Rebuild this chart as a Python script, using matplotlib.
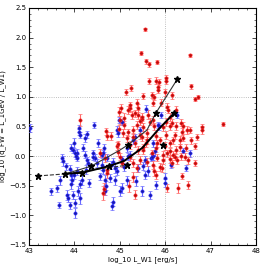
import matplotlib
matplotlib.use("Agg")
import matplotlib.pyplot as plt
from matplotlib.ticker import MultipleLocator

# blue sample: log10 L_W1, log10 q_FW, error
blue_x = [43.02, 44.10, 44.10, 44.12, 44.43, 44.98, 44.94, 45.58, 45.90, 45.86, 45.45,
          43.99, 43.93, 44.06, 44.06, 44.23, 44.27, 43.73, 43.75, 43.82, 43.90, 43.92,
          43.94, 43.92, 43.99, 44.06, 44.17, 44.12, 44.27, 44.30, 44.26, 44.45, 44.50,
          44.41, 44.52, 44.65, 44.71, 44.60, 44.63, 44.56, 44.67, 44.78, 44.70, 44.67,
          43.68, 43.62, 43.84, 43.86, 43.97, 44.08, 44.01, 43.90, 44.13, 44.01, 43.66,
          43.48, 44.85, 44.83, 45.00, 45.05, 45.15, 44.89, 45.36, 45.49, 45.66, 45.55,
          45.62, 45.51, 45.40, 45.55, 45.69, 45.73, 45.77, 45.80, 45.99, 46.00, 46.13,
          46.39, 46.46, 46.55, 43.97, 44.01, 44.04, 44.19, 44.23, 44.60, 44.63, 44.41,
          45.22, 45.16, 45.05, 44.96, 45.33, 45.84, 46.26, 44.85, 44.90, 44.95, 44.80,
          45.05, 45.10, 44.33, 45.29, 45.18, 45.73, 45.71]
blue_y = [0.47, 0.47, 0.41, 0.36, 0.52, 0.61, 0.44, 0.80, 0.70, 0.50, 0.44,
          0.22, 0.14, 0.05, -0.03, 0.31, 0.37, -0.03, -0.08, -0.17, -0.22, -0.32,
          -0.40, -0.47, -0.32, -0.25, -0.40, -0.47, -0.07, -0.12, -0.23, -0.03, -0.12,
          0.05, 0.22, 0.14, -0.03, -0.15, -0.23, -0.34, -0.40, -0.37, -0.50, -0.59,
          -0.41, -0.54, -0.66, -0.71, -0.66, -0.59, -0.79, -0.83, -0.71, -0.96, -0.83,
          -0.59, -0.77, -0.84, -0.59, -0.54, -0.41, -0.41, -0.42, -0.59, -0.66, -0.32,
          -0.25, -0.17, -0.20, -0.07, -0.03, 0.00, 0.08, -0.49, -0.37, -0.45, -0.15,
          0.09, -0.20, 0.05, 0.10, 0.05, 0.00, 0.14, 0.02, 0.02, 0.05, -0.01,
          0.02, 0.14, 0.58, 0.39, 0.32, 0.53, 0.69, -0.10, -0.20, -0.25, -0.15,
          -0.05, -0.18, -0.45, 0.27, 0.00, 0.22, -0.01]
blue_err = [0.07, 0.06, 0.05, 0.05, 0.05, 0.05, 0.06, 0.06, 0.05, 0.06, 0.05,
            0.08, 0.06, 0.07, 0.06, 0.07, 0.06, 0.07, 0.08, 0.06, 0.07, 0.08,
            0.07, 0.08, 0.06, 0.07, 0.08, 0.07, 0.06, 0.07, 0.08, 0.06, 0.07,
            0.06, 0.07, 0.07, 0.06, 0.08, 0.07, 0.06, 0.08, 0.07, 0.08, 0.07,
            0.07, 0.06, 0.08, 0.07, 0.07, 0.08, 0.07, 0.06, 0.09, 0.08, 0.05,
            0.06, 0.08, 0.07, 0.09, 0.08, 0.07, 0.08, 0.08, 0.08, 0.07, 0.07,
            0.08, 0.07, 0.06, 0.07, 0.06, 0.06, 0.07, 0.07, 0.08, 0.07, 0.05,
            0.04, 0.05, 0.06, 0.05, 0.06, 0.05, 0.06, 0.06, 0.05, 0.06, 0.06,
            0.07, 0.07, 0.05, 0.06, 0.06, 0.05, 0.05, 0.07, 0.08, 0.07, 0.06,
            0.06, 0.07, 0.07, 0.06, 0.06, 0.06, 0.06]

# red sample
red_x = [44.12, 45.13, 45.25, 44.98, 45.02, 45.23, 45.10, 45.10, 44.70, 45.18, 45.27,
         45.56, 45.47, 45.58, 45.64, 45.82, 46.55, 45.64, 45.80, 45.86, 45.84, 45.84,
         46.02, 46.02, 46.57, 46.66, 46.72, 46.15, 45.71, 45.75, 47.27, 46.82, 46.82,
         46.24, 46.06, 46.10, 45.90, 45.40, 45.33, 45.40, 45.45, 45.50, 45.62, 45.73,
         45.75, 46.02, 46.10, 46.24, 46.35, 46.40, 46.55,
         44.71, 44.80, 44.94, 44.96, 44.63, 44.65,
         46.05, 46.28, 46.50, 46.37, 46.66, 46.50, 46.35, 46.10, 45.93, 45.73, 45.75,
         45.80, 46.66, 46.57, 46.46, 46.39, 46.33, 46.10, 45.99, 45.88, 46.02, 46.24,
         46.10, 45.95, 46.17, 45.80, 45.80, 45.45,
         45.00, 44.98, 45.18, 45.22, 45.16, 45.22, 45.38, 45.49, 45.38, 45.51, 45.60,
         45.49, 45.33, 45.58, 45.51, 44.72, 45.00,
         45.51, 46.00, 45.73, 46.04, 46.37, 46.48, 46.22, 46.17, 46.70, 45.95, 46.15,
         45.66, 45.29, 45.51, 46.04, 46.22, 46.44,
         44.56, 44.67, 44.72, 44.96, 45.05, 45.07, 45.29, 45.60, 45.82, 46.33, 45.40,
         45.71, 45.45, 45.60, 45.82, 45.95, 46.15, 46.26, 45.29, 45.22, 45.38, 45.88,
         45.30, 45.20, 45.33]
red_y = [0.61, 1.08, 1.15, 0.75, 0.81, 0.81, 0.64, 0.53, 0.42, 0.40, 0.69,
         2.14, 1.74, 1.60, 1.55, 1.59, 1.70, 1.27, 1.27, 1.25, 1.17, 1.12,
         1.32, 1.27, 1.18, 0.96, 1.00, 1.03, 1.03, 0.99, 0.54, 0.49, 0.44,
         0.78, 0.78, 0.66, 0.90, 0.81, 0.72, 0.70, 0.60, 0.62, 0.70, 0.61,
         0.50, 0.58, 0.50, 0.51, 0.56, 0.50, 0.44,
         0.34, 0.34, 0.17, 0.20, -0.62, -0.55,
         -0.54, -0.54, -0.49, -0.34, -0.12, -0.07, 0.00, -0.05, -0.20, -0.15, -0.25,
         -0.32, 0.17, 0.27, 0.14, 0.31, 0.27, 0.22, 0.17, 0.27, 0.36, 0.10,
         0.08, 0.02, 0.02, 0.14, 0.34, 0.36,
         0.61, 0.46, 0.78, 0.86, 0.30, 0.19, 0.90, 0.66, 0.53, 0.49, 0.39,
         0.32, 0.22, 0.22, 0.10, -0.29, -0.01,
         1.01, 1.08, 0.90, 0.83, 0.41, 0.44, 0.35, 0.27, 0.33, 0.49, 0.56,
         0.58, 0.44, 0.15, 0.05, -0.01, -0.01,
         0.05, -0.03, -0.23, 0.07, -0.12, 0.39, 0.32, 0.27, 0.22, 0.15, 0.10,
         0.05, -0.07, -0.10, -0.03, -0.07, -0.12, -0.07, -0.12, -0.02, -0.20, -0.18,
         -0.35, -0.50, -0.65]
red_err = [0.10, 0.05, 0.05, 0.08, 0.07, 0.07, 0.08, 0.07, 0.06, 0.06, 0.07,
           0.03, 0.04, 0.04, 0.04, 0.04, 0.03, 0.05, 0.06, 0.05, 0.06, 0.05,
           0.05, 0.06, 0.04, 0.03, 0.03, 0.06, 0.05, 0.05, 0.03, 0.05, 0.06,
           0.07, 0.06, 0.07, 0.06, 0.07, 0.06, 0.07, 0.07, 0.06, 0.07, 0.07,
           0.06, 0.07, 0.06, 0.07, 0.06, 0.07, 0.05,
           0.07, 0.06, 0.07, 0.06, 0.12, 0.10,
           0.07, 0.08, 0.07, 0.05, 0.05, 0.06, 0.06, 0.07, 0.06, 0.07, 0.08,
           0.07, 0.05, 0.06, 0.06, 0.06, 0.07, 0.06, 0.07, 0.06, 0.07, 0.07,
           0.06, 0.07, 0.06, 0.07, 0.06, 0.07,
           0.07, 0.06, 0.07, 0.06, 0.06, 0.07, 0.07, 0.06, 0.07, 0.07, 0.06,
           0.07, 0.06, 0.07, 0.06, 0.08, 0.06,
           0.05, 0.06, 0.06, 0.06, 0.06, 0.06, 0.06, 0.06, 0.05, 0.06, 0.06,
           0.06, 0.07, 0.06, 0.06, 0.06, 0.06,
           0.07, 0.07, 0.08, 0.06, 0.07, 0.06, 0.07, 0.06, 0.06, 0.06, 0.07,
           0.06, 0.07, 0.07, 0.06, 0.07, 0.06, 0.06, 0.07, 0.06, 0.07, 0.07,
           0.08, 0.10, 0.08]

# model tracks
dash_x = [43.2, 43.8, 44.5, 45.15]
dash_y = [-0.335, -0.30, -0.22, -0.155]
thin_x = [43.8, 44.37, 45.0, 45.18, 45.6, 45.79, 46.27]
thin_y = [-0.30, -0.17, 0.10, 0.19, 0.44, 0.72, 1.30]
thick_x = [43.8, 44.17, 44.76, 45.1, 45.5, 45.84, 46.19]
thick_y = [-0.30, -0.28, -0.17, -0.08, 0.14, 0.44, 0.72]
star_x = [43.2, 43.8, 44.17, 44.37, 44.76, 45.15, 45.18, 45.79, 45.95, 46.19, 46.27]
star_y = [-0.335, -0.30, -0.28, -0.17, -0.17, -0.155, 0.19, 0.72, 0.18, 0.72, 1.30]

fig = plt.figure(figsize=(2.66, 2.66), dpi=100)
ax = fig.add_axes([0.109, 0.079, 0.853, 0.891])

ax.errorbar(blue_x, blue_y, yerr=blue_err, fmt='o', ms=2.3, mfc='#1a1aa0', mec='#2a2aff',
            mew=0.5, ecolor='#6a6aff', elinewidth=0.8, capsize=1.3, capthick=0.6, zorder=3)
ax.errorbar(red_x, red_y, yerr=red_err, fmt='o', ms=2.3, mfc='#b01010', mec='#ff2020',
            mew=0.5, ecolor='#ff6a6a', elinewidth=0.8, capsize=1.3, capthick=0.6, zorder=3)

ax.plot(dash_x, dash_y, '--', color='#333333', lw=0.8, zorder=4)
ax.plot(thin_x, thin_y, '-', color='#333333', lw=0.8, zorder=4)
ax.plot(thick_x, thick_y, '-', color='black', lw=1.4, zorder=4)
ax.plot(star_x, star_y, '*', color='black', ms=4.5, zorder=5)

ax.axhline(0.0, color='#aaaaaa', ls=':', lw=0.6, zorder=1)
ax.axhline(1.0, color='#aaaaaa', ls=':', lw=0.6, zorder=1)
ax.axvline(46.0, color='#aaaaaa', ls=':', lw=0.6, zorder=1)

ax.set_xlim(43, 48)
ax.set_ylim(-1.5, 2.5)
ax.xaxis.set_major_locator(MultipleLocator(1))
ax.xaxis.set_minor_locator(MultipleLocator(0.2))
ax.yaxis.set_major_locator(MultipleLocator(0.5))
ax.yaxis.set_minor_locator(MultipleLocator(0.1))
ax.tick_params(which='both', direction='in', top=True, right=True, labelsize=5, pad=2)
ax.tick_params(which='major', length=3, width=0.5)
ax.tick_params(which='minor', length=1.5, width=0.4)
for s in ax.spines.values():
    s.set_linewidth(0.8)

ax.set_xlabel("log_10 L_W1 [erg/s]", fontsize=5, labelpad=2)
ax.set_ylabel("log_10 (q_FW = L_1GeV / L_W1)", fontsize=5, labelpad=2)

fig.savefig("out.png", dpi=100)
